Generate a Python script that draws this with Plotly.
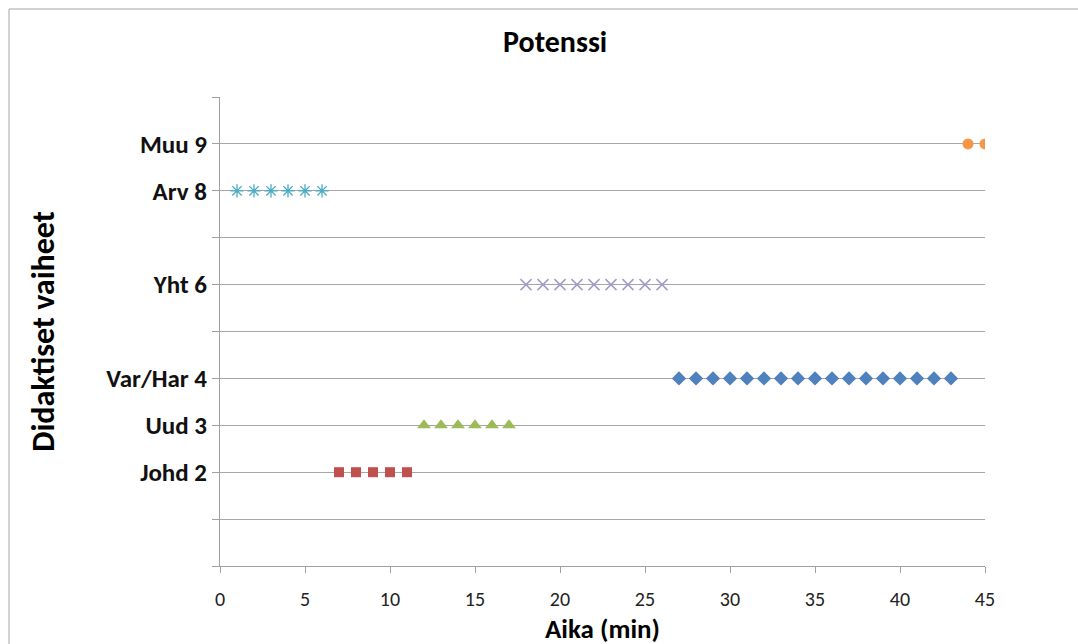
import plotly.graph_objects as go

# Didactic phases over lesson time (minutes)
johd_x = [7, 8, 9, 10, 11]
johd_y = [2, 2, 2, 2, 2]
uud_x = [12, 13, 14, 15, 16, 17]
uud_y = [3, 3, 3, 3, 3, 3]
varhar_x = [27, 28, 29, 30, 31, 32, 33, 34, 35, 36, 37, 38, 39, 40, 41, 42, 43]
varhar_y = [4] * 17
yht_x = [18, 19, 20, 21, 22, 23, 24, 25, 26]
yht_y = [6] * 9
arv_x = [1, 2, 3, 4, 5, 6]
arv_y = [8] * 6
muu_x = [44, 45]
muu_y = [9, 9]

y_tickvals = [0, 1, 2, 3, 4, 5, 6, 7, 8, 9, 10]
y_ticktext = ["", "", "Johd 2", "Uud 3", "Var/Har 4", "", "Yht 6", "", "Arv 8", "Muu 9", ""]
x_tickvals = [0, 5, 10, 15, 20, 25, 30, 35, 40, 45]

FONT = "Carlito, Open Sans, sans-serif"

fig = go.Figure()

series = [
    (varhar_x, varhar_y, "diamond", "#4f81bd", 11, None),
    (johd_x, johd_y, "square", "#c0504d", 10, None),
    (uud_x, uud_y, "triangle-up", "#9bbb59", 12, None),
    (yht_x, yht_y, "x-thin-open", "#a39bc9", 11, 1.5),
    (arv_x, arv_y, "asterisk-open", "#4bacc6", 11, 1.3),
    (muu_x, muu_y, "circle", "#f79646", 11, None),
]
for xs, ys, sym, col, size, lw in series:
    marker = dict(symbol=sym, color=col, size=size)
    if lw is not None:
        marker["line"] = dict(color=col, width=lw)
    else:
        marker["line"] = dict(width=0)
    fig.add_trace(go.Scatter(x=xs, y=ys, mode="markers", marker=marker,
                             showlegend=False, hoverinfo="x+y"))

fig.update_layout(
    width=1078,
    height=644,
    margin=dict(l=220, r=93, t=97, b=78),
    paper_bgcolor="white",
    plot_bgcolor="white",
    title=dict(text="<b>Potenssi</b>", x=0.515, xref="container", y=0.935,
               yref="container", xanchor="center", yanchor="middle",
               font=dict(family=FONT, size=30, color="black")),
    xaxis=dict(
        range=[0, 45],
        tickvals=x_tickvals,
        ticks="outside", ticklen=6, tickcolor="#a0a0a0",
        showline=True, linecolor="#a0a0a0", linewidth=1,
        showgrid=False, zeroline=False,
        ticklabelstandoff=9,
        tickfont=dict(family=FONT, size=20, color="#222"),
        automargin=False,
        fixedrange=True,
    ),
    yaxis=dict(
        range=[0, 10],
        tickvals=y_tickvals,
        ticktext=[f"<b>{t}</b>" if t else "" for t in y_ticktext],
        ticks="outside", ticklen=7, tickcolor="#a0a0a0",
        showline=True, linecolor="#a0a0a0", linewidth=1,
        showgrid=True, gridcolor="#a6a6a6", gridwidth=1,
        zeroline=False,
        tickfont=dict(family=FONT, size=25, color="#111"),
        title=dict(text="<b>Didaktiset vaiheet</b>", standoff=42,
                   font=dict(family=FONT, size=32, color="black")),
        automargin=False,
        fixedrange=True,
    ),
)

# X-axis title, set just below the tick labels
fig.add_annotation(text="<b>Aika (min)</b>", xref="paper", yref="paper",
                   x=0.5, y=(566 - 628) / 469, xanchor="center", yanchor="middle",
                   showarrow=False, font=dict(family=FONT, size=27, color="black"))

# Chart-area border
fig.add_shape(type="rect", xref="paper", yref="paper",
              x0=(9 - 220) / 765, x1=(1085 - 220) / 765,
              y0=(566 - 650) / 469, y1=(566 - 9) / 469,
              line=dict(color="#a6a6a6", width=1), layer="below")

fig.write_html("out.html")
